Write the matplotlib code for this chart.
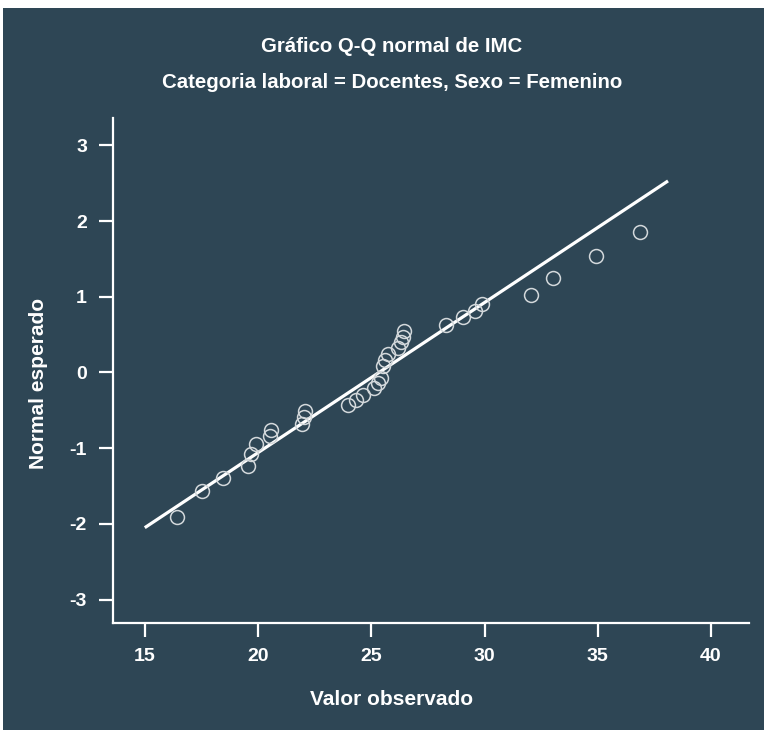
import matplotlib
matplotlib.use("Agg")
import matplotlib.pyplot as plt
from matplotlib.patches import Rectangle

plt.rcParams["font.family"] = ["Liberation Sans", "DejaVu Sans"]
plt.rcParams["font.weight"] = "bold"
plt.rcParams["axes.unicode_minus"] = False

# valores
observed = [16.41, 17.52, 18.45, 19.54, 19.68, 19.93, 20.53, 20.59, 21.94, 22.01,
            22.09, 23.95, 24.31, 24.65, 25.10, 25.30, 25.42, 25.52, 25.61, 25.72,
            26.20, 26.29, 26.39, 26.46, 28.30, 29.07, 29.58, 29.88, 32.04, 33.04,
            34.93, 36.87]
expected = [-1.913, -1.569, -1.390, -1.239, -1.081, -0.940, -0.839, -0.759, -0.680, -0.588,
            -0.515, -0.423, -0.363, -0.304, -0.209, -0.145, -0.073, 0.086, 0.165, 0.238,
            0.324, 0.403, 0.469, 0.548, 0.621, 0.727, 0.812, 0.901, 1.020, 1.248,
            1.535, 1.856]
line_x = [15.0, 38.1]
line_y = [-2.05, 2.53]

x_ticks = [15, 20, 25, 30, 35, 40]
y_ticks = [-3, -2, -1, 0, 1, 2, 3]

bg = "#2e4655"
fg = "white"

fig = plt.figure(figsize=(7.64, 7.30), dpi=100)
fig.patch.set_facecolor("white")
fig.patches.append(Rectangle((3 / 764, 0), 1, 1 - 8 / 730, transform=fig.transFigure,
                             facecolor=bg, edgecolor="none", zorder=-10))

ax = fig.add_axes([0.1483, 0.1470, 0.8325, 0.6910])
ax.set_facecolor(bg)

ax.plot(line_x, line_y, color=fg, linewidth=2.3, solid_capstyle="butt", zorder=2)
ax.plot(observed, expected, linestyle="none", marker="o", markersize=10,
        markerfacecolor="none", markeredgecolor="#d3d8db", markeredgewidth=1.1, zorder=3)

ax.set_xlim(13.61, 41.69)
ax.set_ylim(-3.305, 3.358)
ax.set_xticks(x_ticks)
ax.set_yticks(y_ticks)

for side in ["top", "right"]:
    ax.spines[side].set_visible(False)
for side in ["left", "bottom"]:
    ax.spines[side].set_color(fg)
    ax.spines[side].set_linewidth(1.6)

ax.tick_params(colors=fg, length=10, width=1.6, labelsize=14)
ax.tick_params(axis="x", pad=8)
ax.tick_params(axis="y", pad=9)
for lbl in ax.get_xticklabels() + ax.get_yticklabels():
    lbl.set_fontweight("bold")

ax.set_xlabel("Valor observado", color=fg, fontsize=15, fontweight="bold")
ax.set_ylabel("Normal esperado", color=fg, fontsize=15, fontweight="bold")
ax.xaxis.set_label_coords(0.437, -0.133)
ax.yaxis.set_label_coords(-0.102, 0.475)

fig.text(392 / 764, 1 - 46 / 730, "Gráfico Q-Q normal de IMC", color=fg, fontsize=14.7,
         fontweight="bold", ha="center", va="center")
fig.text(392 / 764, 1 - 83 / 730, "Categoria laboral = Docentes, Sexo = Femenino", color=fg,
         fontsize=14.7, fontweight="bold", ha="center", va="center")

fig.savefig("out.png", dpi=100, facecolor=fig.get_facecolor())
